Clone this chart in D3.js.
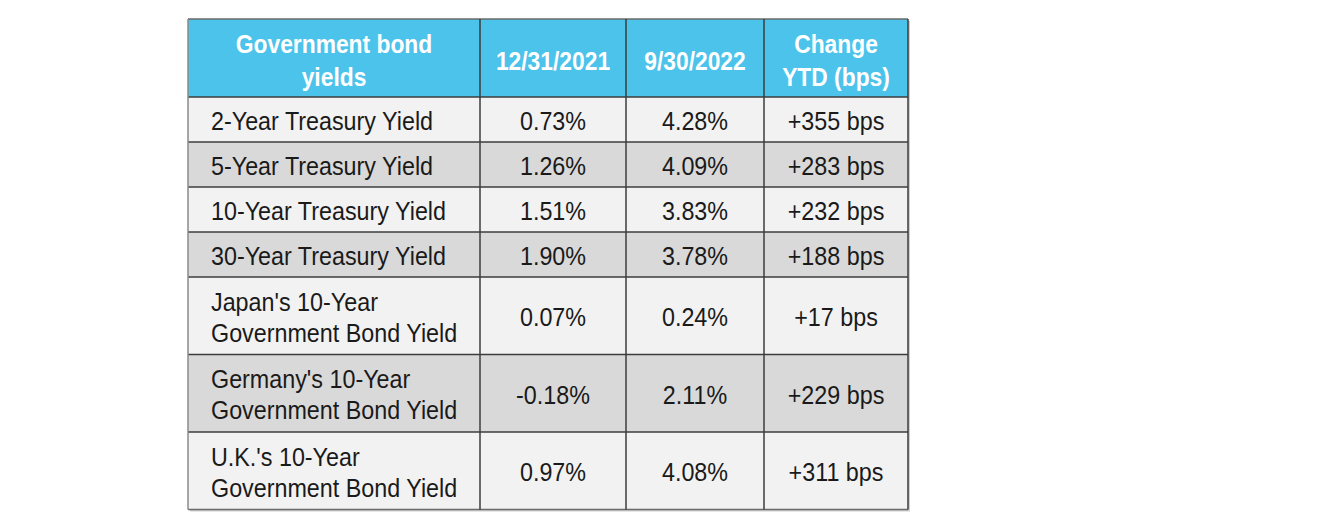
<!DOCTYPE html>
<html>
<head>
<meta charset="utf-8">
<title>Government bond yields</title>
<script src="https://cdn.jsdelivr.net/npm/d3@7/dist/d3.min.js"></script>
<style>
  body { margin: 0; background: #fff; }
  text { font-family: "Liberation Sans", Arial, sans-serif; }
</style>
</head>
<body>
<script>
// table content
var headers = [["Government bond", "yields"], ["12/31/2021"], ["9/30/2022"], ["Change", "YTD (bps)"]];
var bonds = [
  ["2-Year Treasury Yield"],
  ["5-Year Treasury Yield"],
  ["10-Year Treasury Yield"],
  ["30-Year Treasury Yield"],
  ["Japan's 10-Year", "Government Bond Yield"],
  ["Germany's 10-Year", "Government Bond Yield"],
  ["U.K.'s 10-Year", "Government Bond Yield"]
];
var yield2021 = ["0.73%", "1.26%", "1.51%", "1.90%", "0.07%", "-0.18%", "0.97%"];
var yield2022 = ["4.28%", "4.09%", "3.83%", "3.78%", "0.24%", "2.11%", "4.08%"];
var changeYtd = ["+355 bps", "+283 bps", "+232 bps", "+188 bps", "+17 bps", "+229 bps", "+311 bps"];

var width = 1342, height = 532,
    tableLeft = 188, tableTop = 19,
    colWidths = [292, 146, 138, 144],
    headH = 78, oneLineH = 45, twoLineH = 77.5,
    lineGap = 31;

var colX = [tableLeft];
colWidths.forEach(function(w, i) { colX.push(colX[i] + w); });

var rows = bonds.map(function(b, i) {
  return {lines: b, cells: [yield2021[i], yield2022[i], changeYtd[i]], h: b.length > 1 ? twoLineH : oneLineH};
});
var yPos = tableTop + headH;
rows.forEach(function(r, i) { r.y = yPos; r.i = i; yPos += r.h; });
var tableBottom = yPos;

var svg = d3.select("body").append("svg").attr("width", width).attr("height", height);

// faint shadow on right/bottom
svg.append("rect")
  .attr("x", tableLeft + 2).attr("y", tableTop + 2)
  .attr("width", colX[4] - tableLeft).attr("height", tableBottom - tableTop)
  .attr("fill", "#cfcfcf");

// header
svg.append("rect")
  .attr("x", tableLeft).attr("y", tableTop)
  .attr("width", colX[4] - tableLeft).attr("height", headH)
  .attr("fill", "#4cc3eb");

function label(g, x, cy, lines, anchor, opts) {
  var n = lines.length;
  lines.forEach(function(t, k) {
    var by = cy + opts.cap / 2 + (k - (n - 1) / 2) * opts.gap;
    g.append("text")
      .attr("transform", "translate(" + x + "," + by + ") scale(" + opts.squeeze + ",1)")
      .attr("text-anchor", anchor)
      .attr("font-size", opts.size)
      .attr("font-weight", opts.weight)
      .attr("fill", opts.color)
      .text(t);
  });
}

var head = svg.append("g");
headers.forEach(function(h, i) {
  label(head, (colX[i] + colX[i + 1]) / 2, tableTop + headH / 2 + 2.5, h, "middle",
    {size: 25.5, weight: "bold", color: "#fff", cap: 18.3, gap: 33, squeeze: 0.895});
});

// body rows
var rowG = svg.selectAll("g.row").data(rows).enter().append("g").attr("class", "row");
rowG.append("rect")
  .attr("x", tableLeft).attr("y", function(d) { return d.y; })
  .attr("width", colX[4] - tableLeft).attr("height", function(d) { return d.h; })
  .attr("fill", function(d) { return d.i % 2 ? "#d9d9d9" : "#f2f2f2"; });

rowG.each(function(d) {
  var g = d3.select(this), cy = d.y + d.h / 2 + 1;
  var opts = {size: 26.5, weight: "normal", color: "#1a1a1a", cap: 19, gap: lineGap, squeeze: 0.88};
  label(g, colX[0] + 23, cy, d.lines, "start", opts);
  d.cells.forEach(function(c, j) {
    label(g, (colX[j + 1] + colX[j + 2]) / 2, cy, [c], "middle", opts);
  });
});

// grid lines
var lineColor = "#3c3c3c";
var hy = [tableTop, tableTop + headH].concat(rows.map(function(r) { return r.y + r.h; }));
svg.selectAll("line.h").data(hy).enter().append("line")
  .attr("x1", tableLeft).attr("x2", colX[4])
  .attr("y1", function(d) { return d; }).attr("y2", function(d) { return d; })
  .attr("stroke", function(d, i) { return i === 0 || i === hy.length - 1 ? "#6a6a6a" : lineColor; })
  .attr("stroke-width", 1.5);
svg.selectAll("line.v").data(colX).enter().append("line")
  .attr("y1", tableTop).attr("y2", tableBottom)
  .attr("x1", function(d) { return d; }).attr("x2", function(d) { return d; })
  .attr("stroke", function(d, i) { return i === 0 ? "#8a8a8a" : lineColor; })
  .attr("stroke-width", 1.5);
</script>
</body>
</html>
